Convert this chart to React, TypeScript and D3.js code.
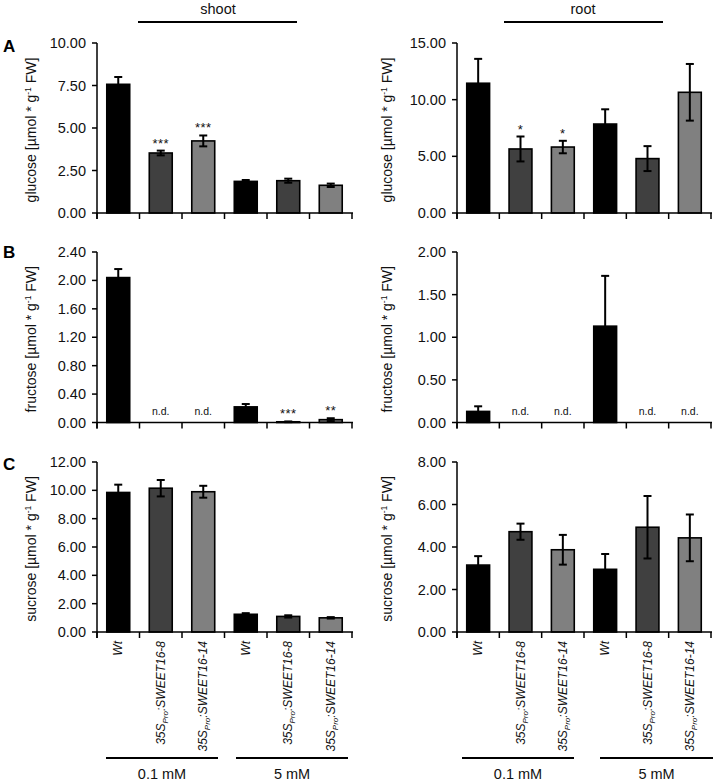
import React from "react";
import * as d3 from "d3";

const genotypes = ["Wt", "35S:SWEET16-8", "35S:SWEET16-14", "Wt", "35S:SWEET16-8", "35S:SWEET16-14"];
const labelSuffix = ["", ":SWEET16-8", ":SWEET16-14", "", ":SWEET16-8", ":SWEET16-14"];
const barColors = ["#000000", "#404040", "#808080", "#000000", "#404040", "#808080"];

// glucose
const glucoseShoot = [7.57, 3.53, 4.24, 1.86, 1.9, 1.63];
const glucoseShootErr = [0.43, 0.14, 0.32, 0.08, 0.12, 0.1];
const glucoseShootSig = ["", "***", "***", "", "", ""];
const glucoseRoot = [11.45, 5.65, 5.82, 7.85, 4.8, 10.65];
const glucoseRootErr = [2.15, 1.1, 0.55, 1.3, 1.1, 2.5];
const glucoseRootSig = ["", "*", "*", "", "", ""];
// fructose
const fructoseShoot = [2.04, 0, 0, 0.22, 0.01, 0.04];
const fructoseShootErr = [0.12, 0, 0, 0.04, 0.005, 0.02];
const fructoseShootSig = ["", "n.d.", "n.d.", "", "***", "**"];
const fructoseRoot = [0.13, 0, 0, 1.13, 0, 0];
const fructoseRootErr = [0.06, 0, 0, 0.59, 0, 0];
const fructoseRootSig = ["", "n.d.", "n.d.", "", "n.d.", "n.d."];
// sucrose
const sucroseShoot = [9.85, 10.15, 9.9, 1.25, 1.1, 1.0];
const sucroseShootErr = [0.55, 0.58, 0.42, 0.08, 0.08, 0.05];
const sucroseRoot = [3.15, 4.72, 3.87, 2.95, 4.93, 4.43];
const sucroseRootErr = [0.42, 0.38, 0.7, 0.72, 1.47, 1.1];
const noSig = ["", "", "", "", "", ""];

const glucoseShootTicks = [0, 2.5, 5, 7.5, 10];
const glucoseRootTicks = [0, 5, 10, 15];
const fructoseShootTicks = [0, 0.4, 0.8, 1.2, 1.6, 2.0, 2.4];
const fructoseRootTicks = [0, 0.5, 1.0, 1.5, 2.0];
const sucroseShootTicks = [0, 2, 4, 6, 8, 10, 12];
const sucroseRootTicks = [0, 2, 4, 6, 8];

const rowLetters = ["A", "B", "C"];
const sugars = ["glucose", "fructose", "sucrose"];
const tissues = ["shoot", "root"];
const concentrations = ["0.1 mM", "5 mM"];

const FONT = "'Liberation Sans', Arial, Helvetica, sans-serif";

type PanelProps = {
  x0: number; x1: number; yTop: number; yBottom: number;
  values: number[]; errs: number[]; sig: string[]; ticks: number[];
  sugar: string; labelX: number; showX: boolean;
};

function Panel({ x0, x1, yTop, yBottom, values, errs, sig, ticks, sugar, labelX, showX }: PanelProps) {
  const x = d3.scaleBand<number>().domain(d3.range(6)).range([x0, x1]).paddingInner(0.46).paddingOuter(0.23);
  const xb = d3.scaleBand<number>().domain(d3.range(6)).range([x0, x1]).padding(0);
  const y = d3.scaleLinear().domain([0, ticks[ticks.length - 1]]).range([yBottom, yTop]);
  const bw = x.bandwidth();
  const capW = 4;
  return (
    <g>
      {values.map((v, i) => {
        const cx = (x(i) as number) + bw / 2;
        const e = errs[i];
        const isND = sig[i] === "n.d.";
        return (
          <g key={i}>
            {v > 0 && (
              <rect x={x(i)} y={y(v)} width={bw} height={y(0) - y(v)} fill={barColors[i]} stroke="#000" strokeWidth={1.6} />
            )}
            {e > 0.004 && (
              <g stroke="#000" strokeWidth={2}>
                <line x1={cx} x2={cx} y1={y(v + e)} y2={y(Math.max(0, v - e))} />
                <line x1={cx - capW} x2={cx + capW} y1={y(v + e)} y2={y(v + e)} />
                <line x1={cx - capW} x2={cx + capW} y1={y(Math.max(0, v - e))} y2={y(Math.max(0, v - e))} />
              </g>
            )}
            {sig[i] && (
              <text x={cx} y={isND ? yBottom - 8 : y(v + e) - 3}
                textAnchor="middle" fontSize={isND ? 10.5 : 13} letterSpacing={isND ? 0 : 0.5}
                fontFamily={FONT} fill="#111">
                {sig[i]}
              </text>
            )}
          </g>
        );
      })}
      {/* axes */}
      <line x1={x0} x2={x0} y1={yTop} y2={yBottom + 6} stroke="#000" strokeWidth={1.5} />
      <line x1={x0} x2={x1 + 1} y1={yBottom} y2={yBottom} stroke="#000" strokeWidth={1.5} />
      {d3.range(7).map((k) => {
        const bx = k < 6 ? (xb(k) as number) : x1;
        return <line key={k} x1={bx} x2={bx} y1={yBottom} y2={yBottom + 6} stroke="#000" strokeWidth={1.5} />;
      })}
      {ticks.map((t) => (
        <g key={t}>
          <line x1={x0 - 5} x2={x0} y1={y(t)} y2={y(t)} stroke="#000" strokeWidth={1.5} />
          <text x={x0 - 11} y={y(t)} dy="0.35em" textAnchor="end" fontSize={14.5} fontFamily={FONT} fill="#111">
            {t.toFixed(2)}
          </text>
        </g>
      ))}
      <text transform={`translate(${labelX},${(yTop + yBottom) / 2 + 2}) rotate(-90)`} textAnchor="middle"
        fontSize={14} fontFamily={FONT} fill="#111">
        {sugar} [µmol * g<tspan fontSize={8.5} dy={-5}>-1</tspan><tspan dy={5}> FW]</tspan>
      </text>
      {showX && genotypes.map((g, i) => {
        const cx = (x(i) as number) + bw / 2;
        return (
          <text key={i} transform={`translate(${cx + 4},${yBottom + 9}) rotate(-90)`} textAnchor="end"
            fontSize={12} fontFamily={FONT} fontStyle="italic" fill="#111">
            {labelSuffix[i] === "" ? "Wt" : (
              <>
                35S<tspan fontSize={8} dy={3}>Pro</tspan><tspan dy={-3}>{labelSuffix[i]}</tspan>
              </>
            )}
          </text>
        );
      })}
    </g>
  );
}

export default function App() {
  const cols = [
    { x0: 97, x1: 352, labelX: 36, topLine: [138, 297], textX: 218, conc: [[106, 218], [236, 348]] },
    { x0: 457, x1: 711, labelX: 392, topLine: [504, 663], textX: 583, conc: [[462, 574], [600, 713]] },
  ];
  const rows = [
    { yTop: 43, yBottom: 213, data: [[glucoseShoot, glucoseShootErr, glucoseShootSig, glucoseShootTicks], [glucoseRoot, glucoseRootErr, glucoseRootSig, glucoseRootTicks]], letterY: 52 },
    { yTop: 252, yBottom: 422.5, data: [[fructoseShoot, fructoseShootErr, fructoseShootSig, fructoseShootTicks], [fructoseRoot, fructoseRootErr, fructoseRootSig, fructoseRootTicks]], letterY: 258 },
    { yTop: 462, yBottom: 632, data: [[sucroseShoot, sucroseShootErr, noSig, sucroseShootTicks], [sucroseRoot, sucroseRootErr, noSig, sucroseRootTicks]], letterY: 470 },
  ];
  return (
    <svg width={722} height={782} style={{ position: "absolute", left: 0, top: 0, background: "#fff" }}>
      <rect width={722} height={782} fill="#fff" />
      {cols.map((c, ci) => (
        <g key={ci}>
          <text x={c.textX} y={14} textAnchor="middle" fontSize={14.5} fontFamily={FONT} fill="#111">{tissues[ci]}</text>
          <line x1={c.topLine[0]} x2={c.topLine[1]} y1={22} y2={22} stroke="#000" strokeWidth={2} />
          {c.conc.map((cc, k) => (
            <g key={k}>
              <line x1={cc[0]} x2={cc[1]} y1={758} y2={758} stroke="#000" strokeWidth={2} />
              <text x={(cc[0] + cc[1]) / 2} y={779} textAnchor="middle" fontSize={14.5} fontFamily={FONT} fill="#111">{concentrations[k]}</text>
            </g>
          ))}
        </g>
      ))}
      {rows.map((r, ri) => (
        <g key={ri}>
          <text x={3} y={r.letterY} fontSize={17} fontWeight="bold" fontFamily={FONT}>{rowLetters[ri]}</text>
          {cols.map((c, ci) => {
            const d = r.data[ci] as [number[], number[], string[], number[]];
            return (
              <Panel key={ci} x0={c.x0} x1={c.x1} yTop={r.yTop} yBottom={r.yBottom}
                values={d[0]} errs={d[1]} sig={d[2]} ticks={d[3]} sugar={sugars[ri]}
                labelX={c.labelX} showX={ri === 2} />
            );
          })}
        </g>
      ))}
    </svg>
  );
}
